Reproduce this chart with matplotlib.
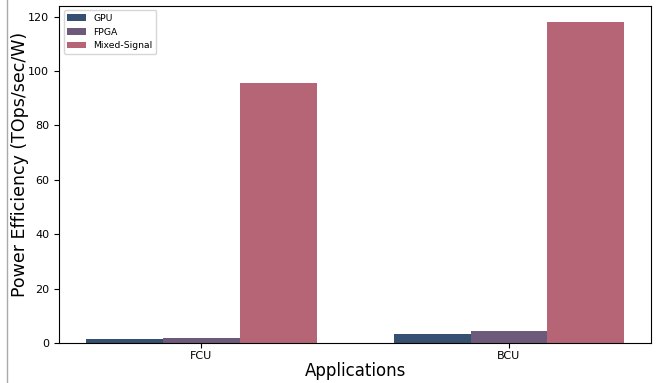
import matplotlib
matplotlib.use("Agg")
import matplotlib.pyplot as plt
import numpy as np
from matplotlib.lines import Line2D

applications = ["FCU", "BCU"]
series_names = ["GPU", "FPGA", "Mixed-Signal"]
gpu = [1.5, 3.4]
fpga = [1.8, 4.4]
mixed_signal = [95.6, 118.2]
colors = ["#355070", "#6d597a", "#b56576"]

fig = plt.figure(figsize=(6.58, 3.83), dpi=100)
ax = fig.add_axes([59 / 658, 1 - 343 / 383, (651.3 - 59) / 658, (343 - 5.5) / 383])

x = np.arange(len(applications))
width = 0.25
for i, (name, vals) in enumerate(zip(series_names, [gpu, fpga, mixed_signal])):
    ax.bar(x + (i - 1) * width, vals, width, label=name, color=colors[i])

ax.set_xticks(x)
ax.set_xticklabels(applications)
ax.tick_params(labelsize=8)
ax.tick_params(axis="x", pad=2)
ax.set_xlabel("Applications", fontsize=12, labelpad=1)
ax.set_ylabel("Power Efficiency (TOps/sec/W)", fontsize=12.5)
ax.yaxis.set_label_coords(-0.05, 0.53)
ax.legend(loc="upper left", fontsize=6.7)

fig.add_artist(Line2D([6.5 / 658, 6.5 / 658], [0, 1], transform=fig.transFigure,
                      color="#aaaaaa", linewidth=1))

fig.savefig("out.png", dpi=100)
